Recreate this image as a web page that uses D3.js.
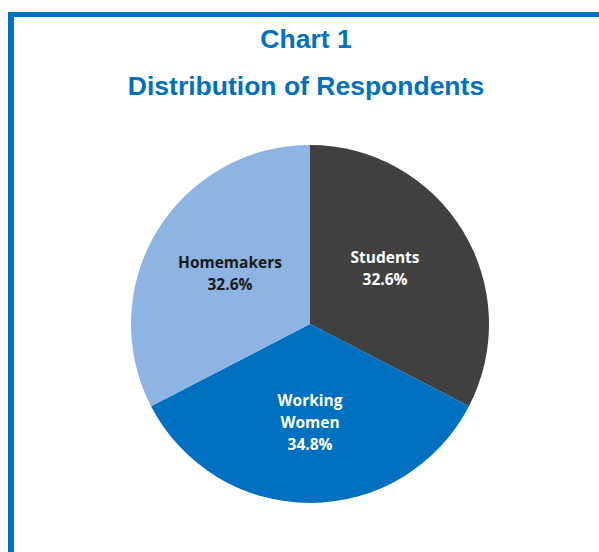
<!DOCTYPE html>
<html><head><meta charset="utf-8">
<script src="https://cdn.jsdelivr.net/npm/d3@7"></script>
<style>html,body{margin:0;padding:0;background:#fff;}</style>
</head><body>
<svg id="c" width="599" height="552"></svg>
<script>
const categories = ["Students", "Working Women", "Homemakers"];
const values = [32.6, 34.8, 32.6];
const labelLines = [["Students"], ["Working", "Women"], ["Homemakers"]];
const colors = ["#404040", "#0070C0", "#8DB4E2"];
const textColors = ["#ffffff", "#ffffff", "#1a1a1a"];
const titles = ["Chart 1", "Distribution of Respondents"];

// layout nudges for label placement (pixels)
const labelNudge = [[-7, -5], [0, 3], [2, 0]];

const svg = d3.select("#c");
// frame
svg.append("rect").attr("x", 8).attr("y", 12).attr("width", 591).attr("height", 5).attr("fill", "#0070C0");
svg.append("rect").attr("x", 8).attr("y", 12).attr("width", 6).attr("height", 540).attr("fill", "#0070C0");

svg.selectAll("text.title").data(titles).join("text")
  .attr("class", "title")
  .attr("x", 306).attr("y", (d, i) => 48 + i * 47)
  .attr("text-anchor", "middle")
  .attr("font-family", "Liberation Sans, Arial, sans-serif")
  .attr("font-weight", "bold").attr("font-size", 26.5)
  .attr("fill", "#0070C0").text(d => d);

const cx = 310, cy = 324, R = 179;
const data = categories.map((c, i) => ({c, v: values[i], i}));
const pie = d3.pie().sort(null).value(d => d.v);
const arcs = pie(data);
const arc = d3.arc().innerRadius(0).outerRadius(R);
const labelArc = d3.arc().innerRadius(96).outerRadius(96);

const g = svg.append("g").attr("transform", `translate(${cx},${cy})`);
g.selectAll("path").data(arcs).join("path")
  .attr("d", arc).attr("fill", d => colors[d.data.i]);

const lh = 22;
arcs.forEach(a => {
  let [x, y] = labelArc.centroid(a);
  x += labelNudge[a.data.i][0];
  y += labelNudge[a.data.i][1];
  const lines = labelLines[a.data.i].concat([a.data.v.toFixed(1) + "%"]);
  const t = g.append("text")
    .attr("text-anchor", "middle")
    .attr("font-family", "Open Sans, sans-serif")
    .attr("font-weight", "bold").attr("font-size", 15.5)
    .attr("fill", textColors[a.data.i]);
  lines.forEach((l, k) => {
    t.append("tspan").attr("x", x)
      .attr("y", y + (k - (lines.length - 1) / 2) * lh + 5)
      .text(l);
  });
});
</script>
</body></html>
